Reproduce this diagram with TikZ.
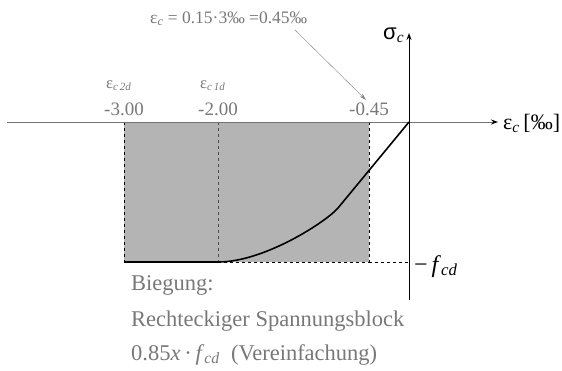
\documentclass[tikz,border=0pt]{standalone}
\usepackage{fontspec}
\setmainfont{Liberation Serif}
\newfontfamily\sigmafont{Liberation Sans}
\usetikzlibrary{arrows.meta,positioning}
\definecolor{labelgray}{RGB}{120,120,120}
\definecolor{blockgray}{RGB}{180,180,180}
\newcommand{\fsize}[1]{\fontsize{#1}{#1}\selectfont}
\newcommand{\lowsub}[1]{\textsubscript{\itshape #1}}
\tikzset{
    gray label/.style={
        text=labelgray,
        inner sep=0pt,
        font=\fsize{16.5}
    },
    tick label/.style={
        gray label,
        anchor=base,
        font=\fsize{19}
    },
    note text/.style={
        gray label,
        anchor=base west,
        font=\fsize{22.5}
    },
    axis label/.style={
        inner sep=0pt,
        anchor=base west,
        font=\fsize{22}
    },
    stress curve/.style={
        line width=1.6pt,
        black,
        line join=round
    }
}

\begin{document}
\begin{tikzpicture}[x=1pt,y=-1pt]
                \useasboundingbox (0,0) rectangle (562,370);
                \coordinate (O) at (409,122);
                \coordinate (Xstart) at (7,122);
                \coordinate (Xend) at (498,122);
                \coordinate (Ybottom) at (409,300);
                \coordinate (Ytop) at (409,33);
                \coordinate (B1) at (124,122);
                \coordinate (B2) at (369,262);
                \coordinate (C1) at (218,122);
                \coordinate (C2) at (218,262);
                \coordinate (F) at (409,262);
                \coordinate (K) at (338,208);
                \coordinate (L) at (124,262);
                \coordinate (Atail) at (295,30);
                \coordinate (Ahead) at (366,100);
                \fill [blockgray] (B1) rectangle (B2);
                \draw [dashed, line width=0.6pt] (B1) rectangle (B2);
                \draw [dashed, line width=0.6pt, black!70] (C1) -- (C2);
                \draw [dashed, line width=0.7pt] (B2) -- (F);
                \draw [line width=0.9pt, black!55, -{Stealth[length=7pt,width=5pt,black]}] (Xstart) -- (Xend);
                \draw [line width=1pt, -{Stealth[length=7pt,width=5pt]}] (Ybottom) -- (Ytop);
                \draw [stress curve] (O) -- (K) .. controls (327,221) and (265,262) .. (C2) -- (L);
                \draw [line width=0.4pt, black!50, -{Stealth[length=7pt,width=4pt]}] (Atail) -- (Ahead);
                \node [gray label, anchor=base west, font=\fsize{17.5}] (formula) at (150,23)
                    {ε\lowsub{c} = 0.15·3‰ =0.45‰};
                \node [gray label, anchor=base west] (epsA) at (106,88) {ε\lowsub{\fsize{11}c\,2d}};
                \node [gray label, anchor=base west] (epsB) at (200,88) {ε\lowsub{\fsize{11}c\,1d}};
                \node [tick label] (tA) at (124,115) {-3.00};
                \node [tick label] (tB) at (218,115) {-2.00};
                \node [tick label] (tC) at (369,115) {-0.45};
                \node [axis label] (sigma) at (383,39) {\sigmafont σ\lowsub{\rmfamily c}};
                \node [axis label] (eps) at (503,129) {ε\lowsub{c}\,[‰]};
                \node [axis label, font=\fsize{24}] (fcd) at (414,272) {−\,\textit{f}\lowsub{cd}};
                \node [note text] (n1) at (131,290) {Biegung:};
                \node [note text] (n2) at (131,326) {Rechteckiger Spannungsblock};
                \node [note text] (n3) at (131,360) {0.85\textit{x}\,·\,\textit{f}\lowsub{cd} \ (Vereinfachung)};
            \end{tikzpicture}
\end{document}
